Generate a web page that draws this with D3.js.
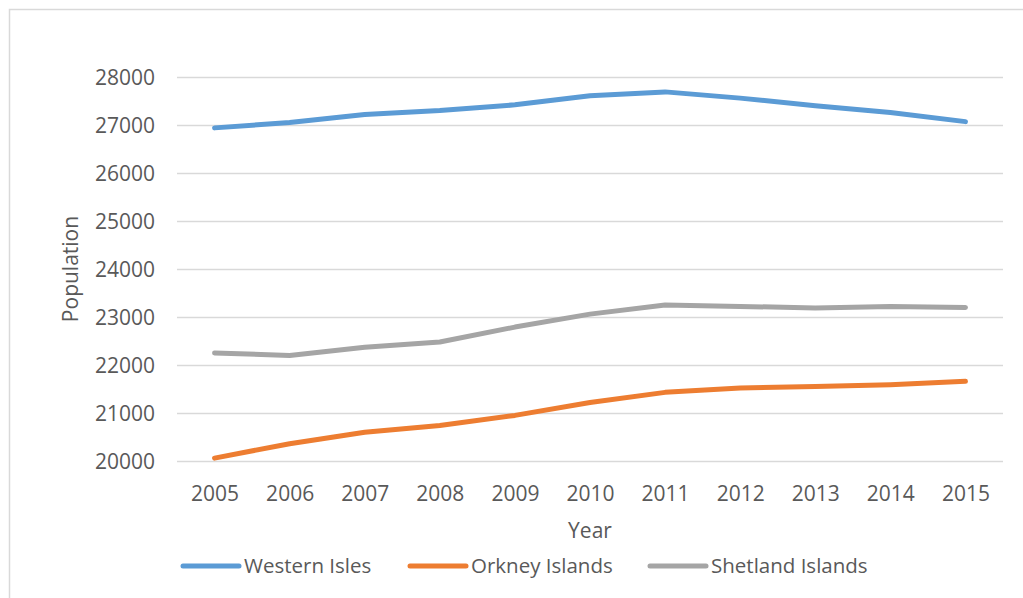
<!DOCTYPE html>
<html lang="en">
<head>
	<meta charset="utf-8">
	<title>Island populations</title>
	<script src="https://d3js.org/d3.v7.min.js"></script>
	<style>
		body { margin: 0; background: #fff; }
		text { font-family: "Open Sans", sans-serif; fill: #595959; }
	</style>
</head>
<body>
	<script>
		// data
		var years = [2005, 2006, 2007, 2008, 2009, 2010, 2011, 2012, 2013, 2014, 2015];
		var westernIsles = [26940, 27050, 27220, 27300, 27420, 27610, 27690, 27560, 27400, 27260, 27070];
		var orkneyIslands = [20060, 20360, 20600, 20740, 20950, 21220, 21430, 21520, 21550, 21590, 21660];
		var shetlandIslands = [22250, 22200, 22370, 22480, 22790, 23060, 23250, 23220, 23190, 23220, 23200];
		var yTicks = [20000, 21000, 22000, 23000, 24000, 25000, 26000, 27000, 28000];
		var seriesNames = ["Western Isles", "Orkney Islands", "Shetland Islands"];
		var seriesColors = ["#5b9bd5", "#ed7d31", "#a5a5a5"];
		var seriesValues = [westernIsles, orkneyIslands, shetlandIslands];

		// plot area (note: "top" is a reserved window property, so use plotTop etc)
		var w = 1023, h = 598;
		var plotLeft = 177, plotRight = 1003, plotTop = 77, plotBottom = 461;

		var svg = d3.select("body").append("svg")
			.attr("width", w)
			.attr("height", h);

		// chart frame (only top/left visible in the picture)
		svg.append("rect")
			.attr("x", 9.5).attr("y", 9.5)
			.attr("width", 1030).attr("height", 620)
			.attr("fill", "none")
			.attr("stroke", "#d9d9d9")
			.attr("stroke-width", 1.5);

		var x = d3.scalePoint()
			.domain(years)
			.range([plotLeft, plotRight])
			.padding(0.5);

		var y = d3.scaleLinear()
			.domain([20000, 28000])
			.range([plotBottom, plotTop]);

		// gridlines + y labels
		var yAxis = d3.axisLeft(y)
			.tickValues(yTicks)
			.tickSize(-(plotRight - plotLeft))
			.tickPadding(22)
			.tickFormat(d3.format("d"));

		var gy = svg.append("g")
			.attr("transform", "translate(" + plotLeft + ",0)")
			.call(yAxis);
		gy.select(".domain").remove();
		gy.selectAll("line").attr("stroke", "#d9d9d9").attr("stroke-width", 1.5);
		gy.selectAll("text")
			.attr("font-size", "21px")
			.attr("fill", "#595959")
			.attr("font-family", "Open Sans, sans-serif")
			.attr("dy", "0.36em");

		// x labels
		var xAxis = d3.axisBottom(x).tickSize(0).tickPadding(0);
		var gx = svg.append("g")
			.attr("transform", "translate(0," + plotBottom + ")")
			.call(xAxis);
		gx.select(".domain").remove();
		gx.selectAll("text")
			.attr("font-size", "21px")
			.attr("fill", "#595959")
			.attr("font-family", "Open Sans, sans-serif")
			.attr("dy", null)
			.attr("y", 40);

		// lines
		var line = d3.line()
			.x(function(d, i) { return x(years[i]); })
			.y(function(d) { return y(d); });

		svg.selectAll(".series")
			.data(seriesValues)
			.enter()
			.append("path")
			.attr("class", "series")
			.attr("d", line)
			.attr("fill", "none")
			.attr("stroke", function(d, i) { return seriesColors[i]; })
			.attr("stroke-width", 5)
			.attr("stroke-linecap", "round")
			.attr("stroke-linejoin", "round");

		// axis titles
		svg.append("text")
			.attr("x", (plotLeft + plotRight) / 2)
			.attr("y", 538)
			.attr("text-anchor", "middle")
			.attr("font-size", "21px")
			.text("Year");

		svg.append("text")
			.attr("text-anchor", "middle")
			.attr("font-size", "21px")
			.attr("transform", "translate(78," + (plotTop + plotBottom) / 2 + ") rotate(-90)")
			.text("Population");

		// legend
		var legendX = [183, 410, 650];
		var lg = svg.selectAll(".legend")
			.data(seriesNames)
			.enter()
			.append("g")
			.attr("class", "legend")
			.attr("transform", function(d, i) { return "translate(" + legendX[i] + ",566)"; });

		lg.append("line")
			.attr("x1", 0).attr("x2", 56)
			.attr("y1", 0).attr("y2", 0)
			.attr("stroke", function(d, i) { return seriesColors[i]; })
			.attr("stroke-width", 5)
			.attr("stroke-linecap", "round");

		lg.append("text")
			.attr("x", 61)
			.attr("y", 7)
			.attr("font-size", "20.5px")
			.text(function(d) { return d; });
	</script>
</body>
</html>
